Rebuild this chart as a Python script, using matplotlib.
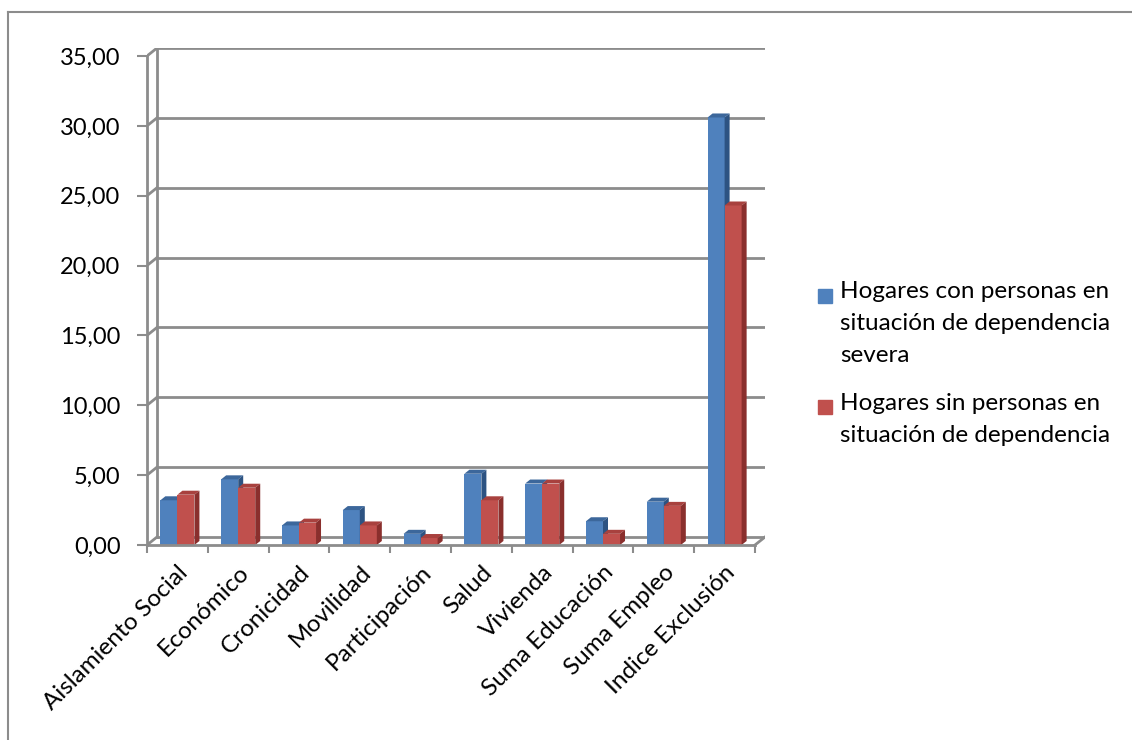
import matplotlib.pyplot as plt
from matplotlib.patches import Polygon, Rectangle
from matplotlib.lines import Line2D

plt.rcParams['font.family'] = ['Lato', 'DejaVu Sans']

categorias = ['Aislamiento Social', 'Económico', 'Cronicidad', 'Movilidad',
              'Participación', 'Salud', 'Vivienda', 'Suma Educación',
              'Suma Empleo', 'Indice Exclusión']
con_dependencia = [3.2, 4.7, 1.4, 2.5, 0.8, 5.1, 4.4, 1.7, 3.1, 30.6]
sin_dependencia = [3.6, 4.1, 1.6, 1.4, 0.5, 3.2, 4.4, 0.8, 2.8, 24.3]
series_labels = ['Hogares con personas en\nsituación de dependencia\nsevera',
                 'Hogares sin personas en\nsituación de dependencia']
yticks = [0, 5, 10, 15, 20, 25, 30, 35]

# colours: front, top, side
blue = ('#4F81BD', '#3C679B', '#2D5382')
red = ('#C0504D', '#A8413E', '#8A2F2D')
grid_col = '#8C8C8C'
fs = 17.5

W, H = 1132, 740
fig = plt.figure(figsize=(W / 100, H / 100), dpi=100)

# axes placed in pixels: front x 147..755, back to 765; y 545 (0) .. 48 (back top)
ax = fig.add_axes([147 / W, (H - 545) / H, (765 - 147) / W, (545 - 48) / H])
n = len(categorias)
dx = 10 / 60.8          # floor depth in category units
dy = 8 / 13.97          # floor depth in value units
ax.set_xlim(-0.5, n - 0.5 + dx)
ax.set_ylim(0, 35 + dy)

# walls / gridlines
for v in yticks:
    ax.plot([-0.5 + dx, n - 0.5 + dx], [v + dy, v + dy], color=grid_col, lw=2, zorder=1)
    ax.plot([-0.5, -0.5 + dx], [v, v + dy], color=grid_col, lw=2, zorder=1)
ax.plot([-0.5 + dx, -0.5 + dx], [dy, 35 + dy], color=grid_col, lw=2, zorder=1)
ax.plot([n - 0.5, n - 0.5 + dx], [0, dy], color=grid_col, lw=2, zorder=1)

# bars with fake 3D faces
bw = 0.28
bdx = 5 / 60.8
bdy = 4 / 13.97
for vals, cols, off in [(con_dependencia, blue, -bw), (sin_dependencia, red, 0)]:
    for i, v in enumerate(vals):
        x0 = i + off
        ax.bar(x0, v, width=bw, align='edge', color=cols[0], zorder=3, lw=0)
        top = [(x0, v), (x0 + bdx, v + bdy), (x0 + bw + bdx, v + bdy), (x0 + bw, v)]
        side = [(x0 + bw, 0), (x0 + bw + bdx, bdy), (x0 + bw + bdx, v + bdy), (x0 + bw, v)]
        ax.add_patch(Polygon(top, closed=True, color=cols[1], lw=0, zorder=3))
        ax.add_patch(Polygon(side, closed=True, color=cols[2], lw=0, zorder=3))

# axes spines and ticks
for s in ['top', 'right']:
    ax.spines[s].set_visible(False)
ax.spines['left'].set_bounds(0, 35)
ax.spines['bottom'].set_bounds(-0.5, n - 0.5)
for s in ['left', 'bottom']:
    ax.spines[s].set_color(grid_col)
    ax.spines[s].set_linewidth(2)
    ax.spines[s].set_zorder(4)

ax.set_yticks(yticks)
ax.set_yticklabels([f'{v:.2f}'.replace('.', ',') for v in yticks])
ax.tick_params(axis='y', length=7, width=1.5, color=grid_col, labelsize=17, pad=12)

ax.set_xticks([i - 0.5 for i in range(n + 1)])
ax.set_xticklabels([])
ax.set_xticks(range(n), minor=True)
ax.set_xticklabels(categorias, minor=True, rotation=45, ha='right', va='top',
                   rotation_mode='anchor', fontsize=fs)
ax.tick_params(axis='x', which='major', length=6, width=1.5, color=grid_col)
ax.tick_params(axis='x', which='minor', length=0, pad=12)

# legend drawn by hand, square aligned with first line
legend_tops = [292, 403]
for lab, cols, y0 in zip(series_labels, [blue, red], legend_tops):
    fig.add_artist(Rectangle((818 / W, 1 - (y0 + 11) / H), 14 / W, 14 / H,
                             color=cols[0], transform=fig.transFigure))
    for k, line in enumerate(lab.split('\n')):
        fig.text(840 / W, 1 - (y0 + k * 32) / H, line, fontsize=fs, va='center', ha='left')

# outer chart border
fig.add_artist(Line2D([8 / W, 8 / W], [0, 1 - 12 / H], color='#8C8C8C', lw=1.5))
fig.add_artist(Line2D([8 / W, 1], [1 - 12 / H, 1 - 12 / H], color='#8C8C8C', lw=1.5))

fig.savefig('out.png', dpi=100)
